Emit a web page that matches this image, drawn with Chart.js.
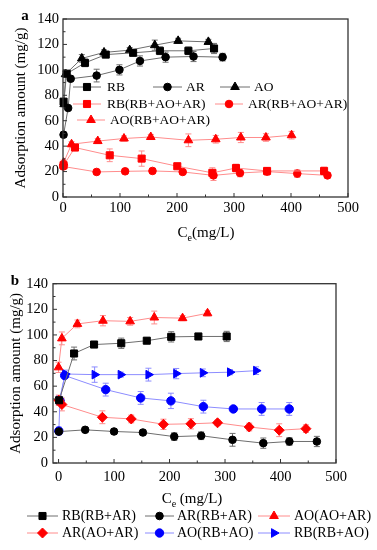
<!DOCTYPE html>
<html>
<head>
<meta charset="utf-8">
<script src="https://cdn.jsdelivr.net/npm/chart.js@4.4.0/dist/chart.umd.min.js"></script>
<style>
  body { margin: 0; background: #fff; }
  #chartA { position: absolute; left: 0; top: 0; }
  #chartB { position: absolute; left: 0; top: 270px; }
</style>
</head>
<body>
<canvas id="chartA" width="377" height="270"></canvas>
<canvas id="chartB" width="377" height="280"></canvas>
<script>
// ---- panel a : single and ternary systems ----
const aRB_x = [1, 6.5, 38.6, 75, 123, 170, 220, 265];
const aRB_y = [75, 97, 105.5, 112, 113.4, 115, 115, 116.8];
const aRB_e = [2, 2, 3, 2, 2, 3, 3, 4];
const aAR_x = [1, 9, 13.5, 59, 99, 135, 180, 229, 280];
const aAR_y = [49, 70, 93, 95.5, 100, 107, 110, 110.5, 110];
const aAR_e = [2, 2, 2, 5, 4, 4, 4, 4, 3];
const aAO_x = [2, 4.5, 33, 72, 117, 161, 202, 255];
const aAO_y = [73, 96.6, 109, 113.7, 115.5, 119.4, 122.8, 122];
const aAO_e = [2, 2, 3, 2, 2, 4, 2, 2];
const aRBm_x = [1, 21, 82, 138, 200.5, 262, 303.5, 358, 458];
const aRBm_y = [25, 38.9, 32.8, 30.2, 24.2, 19, 22.8, 20.5, 20.5];
const aRBm_e = [2, 2, 5, 6, 2, 4, 3, 2, 3];
const aARm_x = [0.5, 59, 109, 157, 210, 264, 310.5, 358, 411, 464];
const aARm_y = [24, 19.7, 20.2, 20.5, 19.7, 17, 18.9, 20, 18.4, 17];
const aARm_e = [2, 2, 2, 2, 2, 4, 3, 3, 3, 2];
const aAOm_x = [1, 15, 61, 107, 154, 220, 268, 312, 356, 401];
const aAOm_y = [27, 41.5, 44, 46, 47.2, 44.6, 45.4, 46.8, 46.8, 48.6];
const aAOm_e = [2, 2, 2, 2, 2, 5, 3, 4, 3, 3];

// ---- panel b : binary systems ----
const bRB1_x = [1, 28, 64, 113, 159, 203, 252, 303];
const bRB1_y = [49, 85.5, 92.5, 93.5, 95.5, 98.5, 98.8, 98.8];
const bRB1_e = [3, 5, 2, 4, 2, 4, 2, 4];
const bAR1_x = [0.5, 48, 100, 152, 208.5, 257, 313.5, 369, 416, 465.5];
const bAR1_y = [24.5, 25.9, 24.6, 23.8, 20.6, 21.3, 18.1, 15.5, 16.8, 16.8];
const bAR1_e = [2, 2, 2, 2, 3, 3, 5, 4, 3, 4];
const bAO2_x = [0, 6, 34, 80, 129, 172.5, 223.5, 268.5];
const bAO2_y = [74.7, 97.3, 108.6, 111.1, 110.6, 113.6, 113.1, 116.9];
const bAO2_e = [4, 5, 3, 4, 3, 5, 2, 2];
const bAR2_x = [0.5, 6, 79, 131, 189, 238.5, 286.5, 343.6, 397.7, 445.8];
const bAR2_y = [49, 45.7, 35.7, 34.4, 30.2, 30.6, 31.4, 28.1, 25.6, 26.8];
const bAR2_e = [4, 5, 5, 3, 4, 4, 2, 3, 5, 3];
const bAO3_x = [0.5, 2.5, 11, 85, 148, 202.5, 261, 315, 366, 415.7];
const bAO3_y = [25, 48.5, 68.3, 57.3, 50.8, 48.5, 44, 42.2, 42.2, 42.2];
const bAO3_e = [3, 3, 2, 5, 5, 6, 5, 2, 5, 5];
const bRB3_x = [1.5, 12, 65, 112, 162, 212, 260, 309, 356];
const bRB3_y = [49, 69.5, 69, 69, 69, 69.8, 70.4, 70.9, 72.1];
const bRB3_e = [2, 3, 6, 2, 5, 4, 3, 2, 3];

const yTicks = [0, 20, 40, 60, 80, 100, 120, 140];
const xTicks = [0, 100, 200, 300, 400, 500];

const FONT = '"Liberation Serif", "Times New Roman", serif';
const BLACK = { line: '#6e6e6e', mark: '#000000' };
const RED = { line: '#ff8c8c', mark: '#ff0000' };
const BLUE = { line: '#8c8cff', mark: '#0000ff' };

function series(label, xs, ys, errs, col, style, radius, rot) {
  return {
    label: label,
    data: xs.map((x, i) => ({ x: x, y: ys[i] })),
    err: errs,
    borderColor: col.line,
    borderWidth: 1,
    backgroundColor: col.mark,
    pointBackgroundColor: col.mark,
    pointBorderColor: col.mark,
    pointBorderWidth: 1,
    pointStyle: style,
    pointRadius: radius,
    pointRotation: rot || 0,
    tension: 0,
    clip: false
  };
}

function drawMarker(ctx, ds, x, y) {
  ctx.fillStyle = ds.pointBackgroundColor;
  ctx.strokeStyle = ds.pointBorderColor;
  ctx.lineWidth = 1;
  Chart.helpers.drawPoint(ctx, { pointStyle: ds.pointStyle, rotation: ds.pointRotation, radius: ds.pointRadius, borderWidth: 1 }, x, y);
}

function drawCe(ctx, cx, cy, rest) {
  ctx.font = '15px ' + FONT;
  const wC = ctx.measureText('C').width;
  const wR = ctx.measureText(rest).width;
  ctx.font = '10px ' + FONT;
  const wE = ctx.measureText('e').width;
  let x = cx - (wC + wE + wR) / 2;
  ctx.textAlign = 'left';
  ctx.textBaseline = 'middle';
  ctx.fillStyle = '#000';
  ctx.font = '15px ' + FONT;
  ctx.fillText('C', x, cy);
  x += wC;
  ctx.font = '10px ' + FONT;
  ctx.fillText('e', x, cy + 5);
  x += wE;
  ctx.font = '15px ' + FONT;
  ctx.fillText(rest, x, cy);
}

const decor = {
  id: 'decor',
  beforeDatasetsDraw(chart) {
    const ctx = chart.ctx, xs = chart.scales.x, ys = chart.scales.y;
    ctx.save();
    chart.data.datasets.forEach(ds => {
      ctx.strokeStyle = ds.borderColor;
      ctx.lineWidth = 1;
      ds.data.forEach((p, i) => {
        const e = ds.err[i];
        const x = xs.getPixelForValue(p.x);
        const y1 = ys.getPixelForValue(p.y - e);
        const y2 = ys.getPixelForValue(p.y + e);
        ctx.beginPath();
        ctx.moveTo(x, y1); ctx.lineTo(x, y2);
        ctx.moveTo(x - 3, y1); ctx.lineTo(x + 3, y1);
        ctx.moveTo(x - 3, y2); ctx.lineTo(x + 3, y2);
        ctx.stroke();
      });
    });
    ctx.restore();
  },
  afterDraw(chart) {
    const o = chart.options.plugins.decor;
    const ctx = chart.ctx, a = chart.chartArea;
    const xs = chart.scales.x, ys = chart.scales.y;
    ctx.save();
    // frame
    ctx.strokeStyle = '#333';
    ctx.lineWidth = 1.3;
    ctx.strokeRect(a.left, a.top, a.right - a.left, a.bottom - a.top);
    // inward ticks, bottom and left only
    ctx.lineWidth = 1;
    ctx.beginPath();
    for (let v = 0; v <= 500; v += 50) {
      const x = xs.getPixelForValue(v);
      const len = v % 100 === 0 ? 4 : 2.5;
      ctx.moveTo(x, a.bottom); ctx.lineTo(x, a.bottom - len);
    }
    for (let v = 0; v <= 140; v += 10) {
      const y = ys.getPixelForValue(v);
      const len = v % 20 === 0 ? 4 : 2.5;
      ctx.moveTo(a.left, y); ctx.lineTo(a.left + len, y);
    }
    ctx.stroke();
    // y title
    ctx.fillStyle = '#000';
    ctx.font = '15px ' + FONT;
    ctx.textAlign = 'center';
    ctx.textBaseline = 'middle';
    ctx.save();
    ctx.translate(o.yTitleX, (a.top + a.bottom) / 2);
    ctx.rotate(-Math.PI / 2);
    ctx.fillText('Adsorption amount (mg/g)', 0, 0);
    ctx.restore();
    // x title
    drawCe(ctx, o.xTitle[0], o.xTitle[1], o.xTitleRest);
    // panel letter
    ctx.font = 'bold 15px ' + FONT;
    ctx.textAlign = 'center';
    ctx.textBaseline = 'middle';
    ctx.fillText(o.letter, o.letterPos[0], o.letterPos[1]);
    // legend
    o.legend.forEach(it => {
      const ds = chart.data.datasets[it.i];
      ctx.strokeStyle = ds.borderColor;
      ctx.lineWidth = 1;
      ctx.beginPath();
      ctx.moveTo(it.x1, it.y); ctx.lineTo(it.x2, it.y);
      ctx.stroke();
      drawMarker(ctx, ds, (it.x1 + it.x2) / 2, it.y);
      ctx.fillStyle = '#000';
      ctx.font = o.legendFont + 'px ' + FONT;
      ctx.textAlign = 'left';
      ctx.textBaseline = 'middle';
      ctx.fillText(ds.label, it.tx, it.y);
    });
    ctx.restore();
  }
};

function scales(xMin, yW, xH, xPad, yPad) {
  return {
    x: {
      type: 'linear', min: xMin, max: 500,
      afterBuildTicks: s => { s.ticks = xTicks.map(v => ({ value: v })); },
      afterFit: s => { s.height = xH; },
      grid: { display: false, drawTicks: false },
      border: { display: false },
      ticks: { color: '#000', font: { family: FONT, size: 14.5 }, padding: xPad, maxRotation: 0 }
    },
    y: {
      min: 0, max: 140,
      afterBuildTicks: s => { s.ticks = yTicks.map(v => ({ value: v })); },
      afterFit: s => { s.width = yW; },
      grid: { display: false, drawTicks: false },
      border: { display: false },
      ticks: { color: '#000', font: { family: FONT, size: 14.5 }, padding: yPad }
    }
  };
}

new Chart(document.getElementById('chartA'), {
  type: 'line',
  data: {
    datasets: [
      series('RB', aRB_x, aRB_y, aRB_e, BLACK, 'rect', 5),
      series('AR', aAR_x, aAR_y, aAR_e, BLACK, 'circle', 3.8),
      series('AO', aAO_x, aAO_y, aAO_e, BLACK, 'triangle', 5),
      series('RB(RB+AO+AR)', aRBm_x, aRBm_y, aRBm_e, RED, 'rect', 5),
      series('AR(RB+AO+AR)', aARm_x, aARm_y, aARm_e, RED, 'circle', 3.8),
      series('AO(RB+AO+AR)', aAOm_x, aAOm_y, aAOm_e, RED, 'triangle', 5)
    ]
  },
  options: {
    responsive: false,
    animation: false,
    devicePixelRatio: 1,
    layout: { padding: { left: 0, right: 29, top: 19, bottom: 0 } },
    scales: scales(0, 63, 73, 2, 4),
    plugins: {
      legend: { display: false },
      tooltip: { enabled: false },
      decor: {
        letter: 'a', letterPos: [25, 16],
        yTitleX: 21,
        xTitle: [206, 233], xTitleRest: '(mg/L)',
        legendFont: 13.5,
        legend: [
          { i: 0, x1: 73, x2: 101, y: 87, tx: 107 },
          { i: 1, x1: 153, x2: 182, y: 87, tx: 186 },
          { i: 2, x1: 220, x2: 250, y: 87, tx: 254 },
          { i: 3, x1: 73, x2: 101, y: 104, tx: 107 },
          { i: 4, x1: 215, x2: 243, y: 104, tx: 248 },
          { i: 5, x1: 77, x2: 105, y: 120, tx: 110 }
        ]
      }
    }
  },
  plugins: [decor]
});

new Chart(document.getElementById('chartB'), {
  type: 'line',
  data: {
    datasets: [
      series('RB(RB+AR)', bRB1_x, bRB1_y, bRB1_e, BLACK, 'rect', 5),
      series('AR(RB+AR)', bAR1_x, bAR1_y, bAR1_e, BLACK, 'circle', 3.8),
      series('AO(AO+AR)', bAO2_x, bAO2_y, bAO2_e, RED, 'triangle', 5),
      series('AR(AO+AR)', bAR2_x, bAR2_y, bAR2_e, RED, 'rectRot', 5),
      series('AO(RB+AO)', bAO3_x, bAO3_y, bAO3_e, BLUE, 'circle', 4.2),
      series('RB(RB+AO)', bRB3_x, bRB3_y, bRB3_e, BLUE, 'triangle', 5, 90)
    ]
  },
  options: {
    responsive: false,
    animation: false,
    devicePixelRatio: 1,
    layout: { padding: { left: 0, right: 41, top: 8, bottom: 0 } },
    scales: scales(-10, 53, 87, 5, 5),
    plugins: {
      legend: { display: false },
      tooltip: { enabled: false },
      decor: {
        letter: 'b', letterPos: [15, 11],
        yTitleX: 16,
        xTitle: [192, 229], xTitleRest: ' (mg/L)',
        legendFont: 14,
        legend: [
          { i: 0, x1: 27, x2: 58, y: 246, tx: 62 },
          { i: 1, x1: 145, x2: 174, y: 246, tx: 177 },
          { i: 2, x1: 258, x2: 290, y: 246, tx: 294 },
          { i: 3, x1: 27, x2: 58, y: 263, tx: 62 },
          { i: 4, x1: 145, x2: 174, y: 263, tx: 177 },
          { i: 5, x1: 258, x2: 290, y: 263, tx: 294 }
        ]
      }
    }
  },
  plugins: [decor]
});
</script>
</body>
</html>
